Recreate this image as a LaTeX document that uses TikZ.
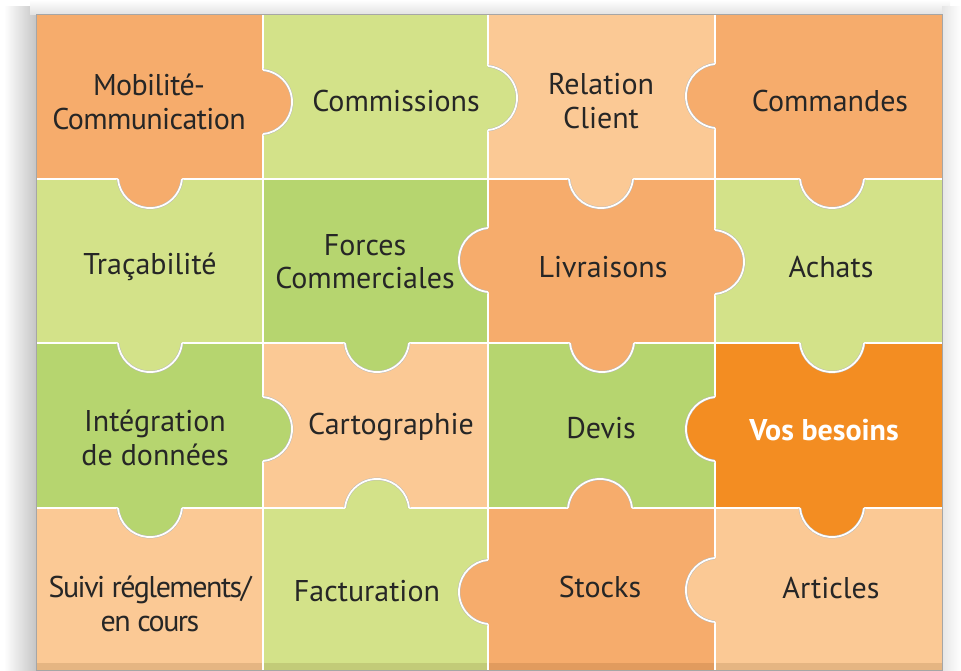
\documentclass[tikz,border=0pt]{standalone}
\usepackage{fontspec}
\setmainfont{PT Sans}
\definecolor{orangeM}{HTML}{F6AC6C}
\definecolor{peach}{HTML}{FBC995}
\definecolor{greenL}{HTML}{D3E289}
\definecolor{greenM}{HTML}{B6D56F}
\definecolor{orangeB}{HTML}{F38D22}
\tikzset{sep/.style={draw=gray!55,line width=0.35pt,double=white,double distance=1.3pt},
txt/.style={align=center,inner sep=0pt,text=black!85,font=\fontsize{22.5}{25}\selectfont}}
\newcommand\puzzleTab[4]{%
\begin{scope}[shift={(#1,#2)},rotate=#3]
\fill[#4](-4,-32)--(0,-32)arc[start angle=-84.4,end angle=84.4,radius=32.2]--(-4,32)--cycle;
\draw[sep](0,-32)arc[start angle=-84.4,end angle=84.4,radius=32.2];
\end{scope}}

\begin{document}
\begin{tikzpicture}[x=0.75pt,y=-0.75pt,semithick]
\useasboundingbox(0,0)rectangle(961,671);
\shade[left color=white,right color=gray!45](4,6)rectangle(36,671);
\shade[top color=white,bottom color=gray!22](30,0)rectangle(950,14);
\shade[left color=gray!20,right color=white](942,6)rectangle(961,671);
\fill[orangeM](36,14)rectangle(263,179)(715,14)rectangle(942,179)(488,179)rectangle(715,343)(488,508)rectangle(715,670);
\fill[peach](488,14)rectangle(715,179)(263,343)rectangle(488,508)(36,508)rectangle(263,670)(715,508)rectangle(942,670);
\fill[greenL](263,14)rectangle(488,179)(36,179)rectangle(263,343)(715,179)rectangle(942,343)(263,508)rectangle(488,670);
\fill[greenM](263,179)rectangle(488,343)(36,343)rectangle(263,508)(488,343)rectangle(715,508);
\fill[orangeB](715,343)rectangle(942,508);
\fill[black!70!orange,opacity=0.12](36,663)rectangle(942,670);
\draw[sep](263,14)--(263,670)(488,14)--(488,670)(715,14)--(715,670)
(36,179)--(942,179)(36,343)--(942,343)(36,508)--(942,508);
\draw[gray!70,line width=0.6pt](36,14)rectangle(942,670);
\puzzleTab{263}{102}{0}{orangeM}
\puzzleTab{488}{98}{0}{greenL}
\puzzleTab{715}{96}{180}{orangeM}
\puzzleTab{488}{260}{180}{orangeM}
\puzzleTab{715}{262}{0}{orangeM}
\puzzleTab{263}{429}{0}{greenM}
\puzzleTab{715}{429}{180}{orangeB}
\puzzleTab{488}{592}{180}{orangeM}
\puzzleTab{715}{590}{180}{peach}
\puzzleTab{150}{179}{-90}{orangeM}
\puzzleTab{601}{179}{-90}{peach}
\puzzleTab{832}{179}{-90}{orangeM}
\puzzleTab{150}{343}{-90}{greenL}
\puzzleTab{377}{343}{-90}{greenM}
\puzzleTab{602}{343}{-90}{orangeM}
\puzzleTab{832}{343}{-90}{greenL}
\puzzleTab{150}{508}{-90}{greenM}
\puzzleTab{377}{508}{90}{greenL}
\puzzleTab{600}{508}{90}{orangeM}
\puzzleTab{832}{508}{-90}{orangeB}
\node[txt](mob)at(149,102){\addfontfeature{LetterSpace=-2}Mobilité-\\\addfontfeature{LetterSpace=-2}Communication};
\node[txt](com)at(396,101){Commissions};
\node[txt](rel)at(601,101){Relation\\Client};
\node[txt](cmd)at(830,101){Commandes};
\node[txt](tra)at(150,267){Traçabilité};
\node[txt](for)at(365,262){Forces\\Commerciales};
\node[txt](liv)at(603,267){Livraisons};
\node[txt](ach)at(831,267){Achats};
\node[txt](int)at(155,438){Intégration\\de données};
\node[txt](car)at(391,427){Cartographie};
\node[txt](dev)at(601,428){Devis};
\node[txt,text=white,font=\fontsize{22.5}{25}\selectfont\bfseries](vos)at(824,430){Vos besoins};
\node[txt](sui)at(150,604){\addfontfeature{LetterSpace=-5}Suivi réglements/\\\addfontfeature{LetterSpace=-5}en cours};
\node[txt](fac)at(367,591){Facturation};
\node[txt](sto)at(600,587){Stocks};
\node[txt](art)at(831,588){Articles};
\end{tikzpicture}
\end{document}
